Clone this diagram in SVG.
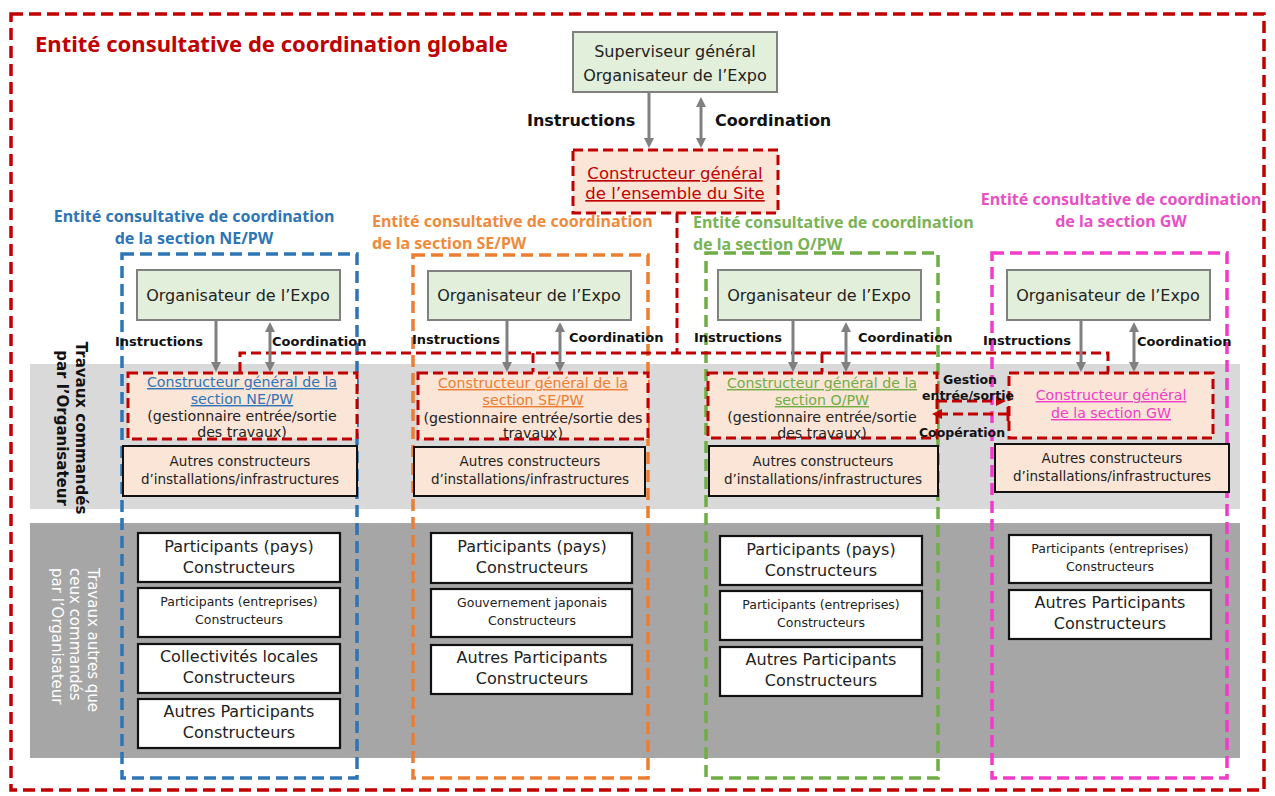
<svg xmlns="http://www.w3.org/2000/svg" width="1275" height="796" viewBox="0 0 1275 796">
<defs>
<style>
.bg{fill:#ffffff}
.frame{fill:none;stroke-width:3.5;stroke-dasharray:12 6}
.red{stroke:#c00000}
.org{fill:#e2efda;stroke:#808080;stroke-width:2}
.cg{fill:#fbe5d6;stroke:#c00000;stroke-width:3;stroke-dasharray:10 5}
.oth{fill:#fbe5d6;stroke:#111;stroke-width:2}
.wb{fill:#ffffff;stroke:#111;stroke-width:2.2}
.t{font-family:"DejaVu Sans",Verdana,sans-serif;fill:#222;text-anchor:middle}
.t16{font-size:16px}
.t14{font-size:13.5px}
.t145{font-size:14.2px}
.t13{font-size:12.5px}
.lab{font-family:"DejaVu Sans",Verdana,sans-serif;font-weight:bold;fill:#111}
.hd{font-family:"Noto Sans","DejaVu Sans",sans-serif;font-weight:bold;font-size:16px}
.ul{text-decoration:underline}
.ga{stroke:#808080;stroke-width:3;fill:none}
.bus{stroke:#c00000;stroke-width:3;stroke-dasharray:10 5;fill:none}
</style>
<marker id="ag" viewBox="0 0 10 10" refX="3" refY="5" markerWidth="10" markerHeight="10" markerUnits="userSpaceOnUse" orient="auto-start-reverse"><path d="M0,0 L10,5 L0,10 z" fill="#808080"/></marker>
<marker id="ar" viewBox="0 0 10 10" refX="3" refY="5" markerWidth="10" markerHeight="10" markerUnits="userSpaceOnUse" orient="auto-start-reverse"><path d="M0,0 L10,5 L0,10 z" fill="#c00000"/></marker>
</defs>
<rect class="bg" x="0" y="0" width="1275" height="796"/>

<g id="bands">
<rect x="30" y="364" width="1210" height="145" fill="#d9d9d9"/>
<rect x="30" y="523" width="1210" height="235" fill="#a6a6a6"/>
<text class="lab" font-size="15" text-anchor="middle" transform="translate(76,428) rotate(90)"><tspan x="0" y="0">Travaux commandés</tspan><tspan x="0" dy="19">par l’Organisateur</tspan></text>
<text font-family="DejaVu Sans,Verdana,sans-serif" font-size="15" fill="#ffffff" transform="translate(88,568) rotate(90)"><tspan x="0" y="0">Travaux autres que</tspan><tspan x="0" dy="18">ceux commandés</tspan><tspan x="0" dy="18">par l’Organisateur</tspan></text>
</g>

<g id="global-frame">
<rect class="frame red" x="11" y="14" width="1253" height="776"/>
<text x="35" y="52" font-family="Noto Sans,DejaVu Sans,sans-serif" font-weight="bold" font-size="21.5" fill="#c00000" textLength="473" lengthAdjust="spacingAndGlyphs">Entité consultative de coordination globale</text>
</g>

<g id="frame-ne">
<rect class="frame" stroke="#2e75b6" x="122" y="254" width="235" height="524"/>
<text class="hd" fill="#2e75b6" text-anchor="middle"><tspan x="194" y="222">Entité consultative de coordination</tspan><tspan x="194" y="244">de la section NE/PW</tspan></text>
</g>
<g id="frame-se">
<rect class="frame" stroke="#ed7d31" x="413" y="255" width="235" height="523"/>
<text class="hd" fill="#ef8a3c"><tspan x="372" y="227">Entité consultative de coordination</tspan><tspan x="372" y="249">de la section SE/PW</tspan></text>
</g>
<g id="frame-o">
<rect class="frame" stroke="#70ad47" x="706" y="253" width="232" height="525"/>
<text class="hd" fill="#7ab356"><tspan x="693" y="228">Entité consultative de coordination</tspan><tspan x="693" y="250">de la section O/PW</tspan></text>
</g>
<g id="frame-gw">
<rect class="frame" stroke="#f03cc8" x="992" y="253" width="235" height="525"/>
<text class="hd" fill="#e850c6" text-anchor="middle"><tspan x="1121" y="205">Entité consultative de coordination</tspan><tspan x="1121" y="227">de la section GW</tspan></text>
</g>

<g id="superviseur">
<rect class="org" x="573" y="32" width="204" height="60"/>
<text class="t t16"><tspan x="675" y="57">Superviseur  général</tspan><tspan x="675" y="81">Organisateur de l’Expo</tspan></text>
</g>
<g id="constructeur-site">
<rect class="cg" x="573" y="150" width="205" height="63"/>
<text class="t ul" font-size="16.5" style="fill:#c00000"><tspan x="675" y="179">Constructeur général</tspan><tspan x="675" y="199">de l’ensemble du Site</tspan></text>
</g>

<g id="org-ne"><rect class="org" x="137" y="270" width="203" height="50"/><text class="t t16" x="238" y="301">Organisateur  de l’Expo</text></g>
<g id="org-se"><rect class="org" x="428" y="271" width="203" height="49"/><text class="t t16" x="529" y="301">Organisateur  de l’Expo</text></g>
<g id="org-o"><rect class="org" x="718" y="270" width="203" height="50"/><text class="t t16" x="819" y="301">Organisateur  de l’Expo</text></g>
<g id="org-gw"><rect class="org" x="1007" y="270" width="203" height="50"/><text class="t t16" x="1108" y="301">Organisateur  de l’Expo</text></g>

<g id="cg-ne"><rect class="cg" x="128" y="373" width="229" height="66"/>
<text class="t t145"><tspan x="242" y="387" class="ul" style="fill:#2e75b6">Constructeur général de la</tspan><tspan x="242" y="404" class="ul" style="fill:#2e75b6">section NE/PW</tspan><tspan x="242" y="421">(gestionnaire entrée/sortie</tspan><tspan x="242" y="437">des travaux)</tspan></text></g>
<g id="cg-se"><rect class="cg" x="418" y="373" width="230" height="66"/>
<text class="t t145"><tspan x="533" y="388" class="ul" style="fill:#ed7d31">Constructeur général de la</tspan><tspan x="533" y="405" class="ul" style="fill:#ed7d31">section SE/PW</tspan><tspan x="533" y="423">(gestionnaire entrée/sortie des</tspan><tspan x="533" y="438">travaux)</tspan></text></g>
<g id="cg-o"><rect class="cg" x="708" y="373" width="229" height="65"/>
<text class="t t145"><tspan x="822" y="388" class="ul" style="fill:#70ad47">Constructeur général de la</tspan><tspan x="822" y="405" class="ul" style="fill:#70ad47">section O/PW</tspan><tspan x="822" y="422">(gestionnaire entrée/sortie</tspan><tspan x="822" y="438">des travaux)</tspan></text></g>
<g id="cg-gw"><rect class="cg" x="1009" y="373" width="204" height="65"/>
<text class="t t145"><tspan x="1111" y="400" class="ul" style="fill:#f03cc8">Constructeur général</tspan><tspan x="1111" y="418" class="ul" style="fill:#f03cc8">de la section GW</tspan></text></g>

<g id="autres-ne"><rect class="oth" x="123" y="446" width="234" height="50"/><text class="t t14"><tspan x="240" y="466">Autres constructeurs</tspan><tspan x="240" y="484">d’installations/infrastructures</tspan></text></g>
<g id="autres-se"><rect class="oth" x="414" y="447" width="231" height="49"/><text class="t t14"><tspan x="530" y="466">Autres constructeurs</tspan><tspan x="530" y="484">d’installations/infrastructures</tspan></text></g>
<g id="autres-o"><rect class="oth" x="709" y="446" width="229" height="50"/><text class="t t14"><tspan x="823" y="466">Autres constructeurs</tspan><tspan x="823" y="484">d’installations/infrastructures</tspan></text></g>
<g id="autres-gw"><rect class="oth" x="995" y="444" width="234" height="48"/><text class="t t14"><tspan x="1112" y="463">Autres constructeurs</tspan><tspan x="1112" y="481">d’installations/infrastructures</tspan></text></g>

<g id="ne-pays"><rect class="wb" x="138" y="533" width="202" height="49"/><text class="t t16"><tspan x="239" y="552">Participants  (pays)</tspan><tspan x="239" y="573">Constructeurs</tspan></text></g>
<g id="ne-entreprises"><rect class="wb" x="138" y="588" width="202" height="49"/><text class="t t13"><tspan x="239" y="606">Participants (entreprises)</tspan><tspan x="239" y="624">Constructeurs</tspan></text></g>
<g id="ne-collectivites"><rect class="wb" x="138" y="644" width="202" height="49"/><text class="t t16"><tspan x="239" y="662">Collectivités  locales</tspan><tspan x="239" y="683">Constructeurs</tspan></text></g>
<g id="ne-autres"><rect class="wb" x="138" y="699" width="202" height="49"/><text class="t t16"><tspan x="239" y="717">Autres Participants</tspan><tspan x="239" y="738">Constructeurs</tspan></text></g>

<g id="se-pays"><rect class="wb" x="431" y="533" width="201" height="50"/><text class="t t16"><tspan x="532" y="552">Participants  (pays)</tspan><tspan x="532" y="573">Constructeurs</tspan></text></g>
<g id="se-gouv"><rect class="wb" x="431" y="589" width="201" height="48"/><text class="t t13"><tspan x="532" y="607">Gouvernement japonais</tspan><tspan x="532" y="625">Constructeurs</tspan></text></g>
<g id="se-autres"><rect class="wb" x="431" y="645" width="201" height="49"/><text class="t t16"><tspan x="532" y="663">Autres Participants</tspan><tspan x="532" y="684">Constructeurs</tspan></text></g>

<g id="o-pays"><rect class="wb" x="720" y="536" width="202" height="49"/><text class="t t16"><tspan x="821" y="555">Participants  (pays)</tspan><tspan x="821" y="576">Constructeurs</tspan></text></g>
<g id="o-entreprises"><rect class="wb" x="720" y="591" width="202" height="49"/><text class="t t13"><tspan x="821" y="609">Participants (entreprises)</tspan><tspan x="821" y="627">Constructeurs</tspan></text></g>
<g id="o-autres"><rect class="wb" x="720" y="647" width="202" height="49"/><text class="t t16"><tspan x="821" y="665">Autres Participants</tspan><tspan x="821" y="686">Constructeurs</tspan></text></g>

<g id="gw-entreprises"><rect class="wb" x="1009" y="535" width="202" height="48"/><text class="t t13"><tspan x="1110" y="553">Participants (entreprises)</tspan><tspan x="1110" y="571">Constructeurs</tspan></text></g>
<g id="gw-autres"><rect class="wb" x="1009" y="590" width="202" height="49"/><text class="t t16"><tspan x="1110" y="608">Autres Participants</tspan><tspan x="1110" y="629">Constructeurs</tspan></text></g>

<g id="connectors">
<path class="bus" d="M677 213 V353"/>
<path class="bus" d="M240 372 V353 H1108 V372"/>
<path class="bus" d="M533 353 V372"/>
<path class="bus" d="M822 353 V372"/>
<path class="ga" d="M649 92 V141" marker-end="url(#ag)"/>
<path class="ga" d="M701 104 V141" marker-start="url(#ag)" marker-end="url(#ag)"/>
<path class="ga" d="M216 320 V365" marker-end="url(#ag)"/>
<path class="ga" d="M270 329 V365" marker-start="url(#ag)" marker-end="url(#ag)"/>
<path class="ga" d="M507 320 V365" marker-end="url(#ag)"/>
<path class="ga" d="M560 329 V365" marker-start="url(#ag)" marker-end="url(#ag)"/>
<path class="ga" d="M793 320 V365" marker-end="url(#ag)"/>
<path class="ga" d="M846 329 V365" marker-start="url(#ag)" marker-end="url(#ag)"/>
<path class="ga" d="M1081 320 V365" marker-end="url(#ag)"/>
<path class="ga" d="M1134 329 V365" marker-start="url(#ag)" marker-end="url(#ag)"/>
<path class="bus" d="M937 401 H999" marker-end="url(#ar)"/>
<path class="bus" d="M1008 414 H939" marker-end="url(#ar)"/>
<path stroke="#c00000" stroke-width="3" d="M1008 407 V421"/>
<text class="lab" font-size="16"><tspan x="527" y="126">Instructions</tspan><tspan x="715" y="126">Coordination</tspan></text>
<text class="lab" font-size="13"><tspan x="115" y="346">Instructions</tspan><tspan x="272" y="346">Coordination</tspan><tspan x="412" y="344">Instructions</tspan><tspan x="569" y="342">Coordination</tspan><tspan x="694" y="342">Instructions</tspan><tspan x="858" y="342">Coordination</tspan><tspan x="983" y="345">Instructions</tspan><tspan x="1137" y="346">Coordination</tspan></text>
<text class="lab" font-size="12.5" text-anchor="middle"><tspan x="970" y="384">Gestion</tspan><tspan x="968" y="400">entrée/sortie</tspan><tspan x="962" y="437">Coopération</tspan></text>
</g>
</svg>
